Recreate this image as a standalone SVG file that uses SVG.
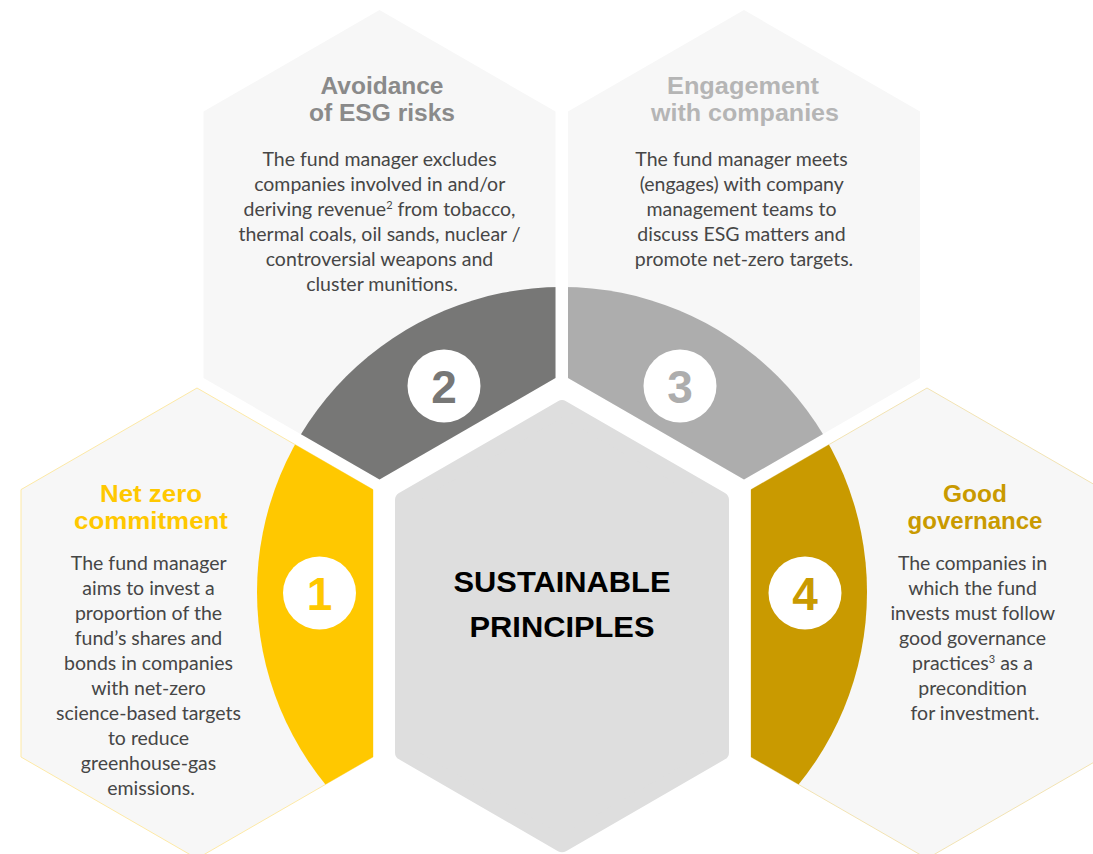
<svg xmlns="http://www.w3.org/2000/svg" width="1093" height="854" viewBox="0 0 1093 854">
<style>
.hex{fill:#f7f7f7}
.body{font-family:Lato,"Liberation Sans",sans-serif;font-size:19.5px;fill:#464646;text-anchor:middle}
.head{font-family:"Liberation Sans",Arial,sans-serif;font-weight:bold;font-size:23px;text-anchor:middle}
.num{font-family:"Liberation Sans",Arial,sans-serif;font-weight:bold;font-size:46px;text-anchor:middle}
.sup{font-size:11px}
</style>
<defs>
<clipPath id="ring"><circle cx="562" cy="592" r="305"/></clipPath>
</defs>
<rect width="1093" height="854" fill="#ffffff"/>

<g id="node-avoidance">
<polygon class="hex" points="379.5,10 555.5,111.6 555.5,378 379.5,479.6 203.5,378 203.5,111.6"/>
<polygon clip-path="url(#ring)" fill="#777776" points="379.5,10 555.5,111.6 555.5,378 379.5,479.6 203.5,378 203.5,111.6"/>
<circle cx="444" cy="386" r="36.5" fill="#ffffff"/>
<text class="num" x="444" y="402.5" fill="#777776">2</text>
<text class="head" fill="#8a8a8a"><tspan x="382" y="94" textLength="123" lengthAdjust="spacingAndGlyphs">Avoidance</tspan><tspan x="382" y="120.5" textLength="146" lengthAdjust="spacingAndGlyphs">of ESG risks</tspan></text>
<text class="body">
<tspan x="382" y="165.7">The fund manager excludes</tspan>
<tspan x="382" y="190.7">companies involved in and/or</tspan>
<tspan x="382" y="215.7">deriving revenue<tspan class="sup" dy="-7">2</tspan><tspan dy="7"> from tobacco,</tspan></tspan>
<tspan x="382" y="240.7">thermal coals, oil sands, nuclear /</tspan>
<tspan x="382" y="265.7">controversial weapons and</tspan>
<tspan x="382" y="290.7">cluster munitions.</tspan>
</text>
</g>

<g id="node-engagement">
<polygon class="hex" points="744,10 920,111.6 920,378 744,479.6 568,378 568,111.6"/>
<polygon clip-path="url(#ring)" fill="#adadad" points="744,10 920,111.6 920,378 744,479.6 568,378 568,111.6"/>
<circle cx="680" cy="386" r="36.5" fill="#ffffff"/>
<text class="num" x="680" y="402.5" fill="#adadad">3</text>
<text class="head" fill="#b5b5b5"><tspan x="743" y="94" textLength="152" lengthAdjust="spacingAndGlyphs">Engagement</tspan><tspan x="745" y="120.5" textLength="188" lengthAdjust="spacingAndGlyphs">with companies</tspan></text>
<text class="body">
<tspan x="744" y="165.7">The fund manager meets</tspan>
<tspan x="744" y="190.7">(engages) with company</tspan>
<tspan x="744" y="215.7">management teams to</tspan>
<tspan x="744" y="240.7">discuss ESG matters and</tspan>
<tspan x="744" y="265.7">promote net-zero targets.</tspan>
</text>
</g>

<g id="node-netzero">
<polygon class="hex" stroke="#fde9a6" stroke-width="1" points="197,388 373,489.6 373,757 197,858.6 21,757 21,489.6"/>
<polygon clip-path="url(#ring)" fill="#ffc800" points="197,388 373,489.6 373,757 197,858.6 21,757 21,489.6"/>
<circle cx="319.5" cy="593" r="36.5" fill="#ffffff"/>
<text class="num" x="319.5" y="609.5" fill="#ffc800">1</text>
<text class="head" fill="#ffc800"><tspan x="151" y="502" textLength="102" lengthAdjust="spacingAndGlyphs">Net zero</tspan><tspan x="151" y="529" textLength="154" lengthAdjust="spacingAndGlyphs">commitment</tspan></text>
<text class="body">
<tspan x="151" y="570">The fund manager</tspan>
<tspan x="151" y="595">aims to invest a</tspan>
<tspan x="151" y="620">proportion of the</tspan>
<tspan x="151" y="645">fund’s shares and</tspan>
<tspan x="151" y="670">bonds in companies</tspan>
<tspan x="151" y="695">with net-zero</tspan>
<tspan x="151" y="720">science-based targets</tspan>
<tspan x="151" y="745">to reduce</tspan>
<tspan x="151" y="770">greenhouse-gas</tspan>
<tspan x="151" y="795">emissions.</tspan>
</text>
</g>

<g id="node-governance">
<polygon class="hex" stroke="#f2e3b3" stroke-width="1" points="927,388 1103,489.6 1103,757 927,858.6 751,757 751,489.6"/>
<polygon clip-path="url(#ring)" fill="#c99a00" points="927,388 1103,489.6 1103,757 927,858.6 751,757 751,489.6"/>
<circle cx="805" cy="593" r="36.5" fill="#ffffff"/>
<text class="num" x="805" y="609.5" fill="#c99a00">4</text>
<text class="head" fill="#c99a00"><tspan x="975" y="502" textLength="64" lengthAdjust="spacingAndGlyphs">Good</tspan><tspan x="975" y="529" textLength="135" lengthAdjust="spacingAndGlyphs">governance</tspan></text>
<text class="body">
<tspan x="975" y="570">The companies in</tspan>
<tspan x="975" y="595">which the fund</tspan>
<tspan x="975" y="620">invests must follow</tspan>
<tspan x="975" y="645">good governance</tspan>
<tspan x="975" y="670">practices<tspan class="sup" dy="-7">3</tspan><tspan dy="7"> as a</tspan></tspan>
<tspan x="975" y="695">precondition</tspan>
<tspan x="975" y="720">for investment.</tspan>
</text>
</g>

<g id="node-center">
<polygon fill="#dedede" stroke="#dedede" stroke-width="16" stroke-linejoin="round" points="562,408.2 721,500 721,752.4 562,844.2 403,752.4 403,500"/>
<text class="head" fill="#000000" style="font-size:29px"><tspan x="562" y="592.3" textLength="217" lengthAdjust="spacingAndGlyphs">SUSTAINABLE</tspan><tspan x="562" y="637.3" textLength="185" lengthAdjust="spacingAndGlyphs">PRINCIPLES</tspan></text>
</g>

<g id="connectors"></g>
</svg>
